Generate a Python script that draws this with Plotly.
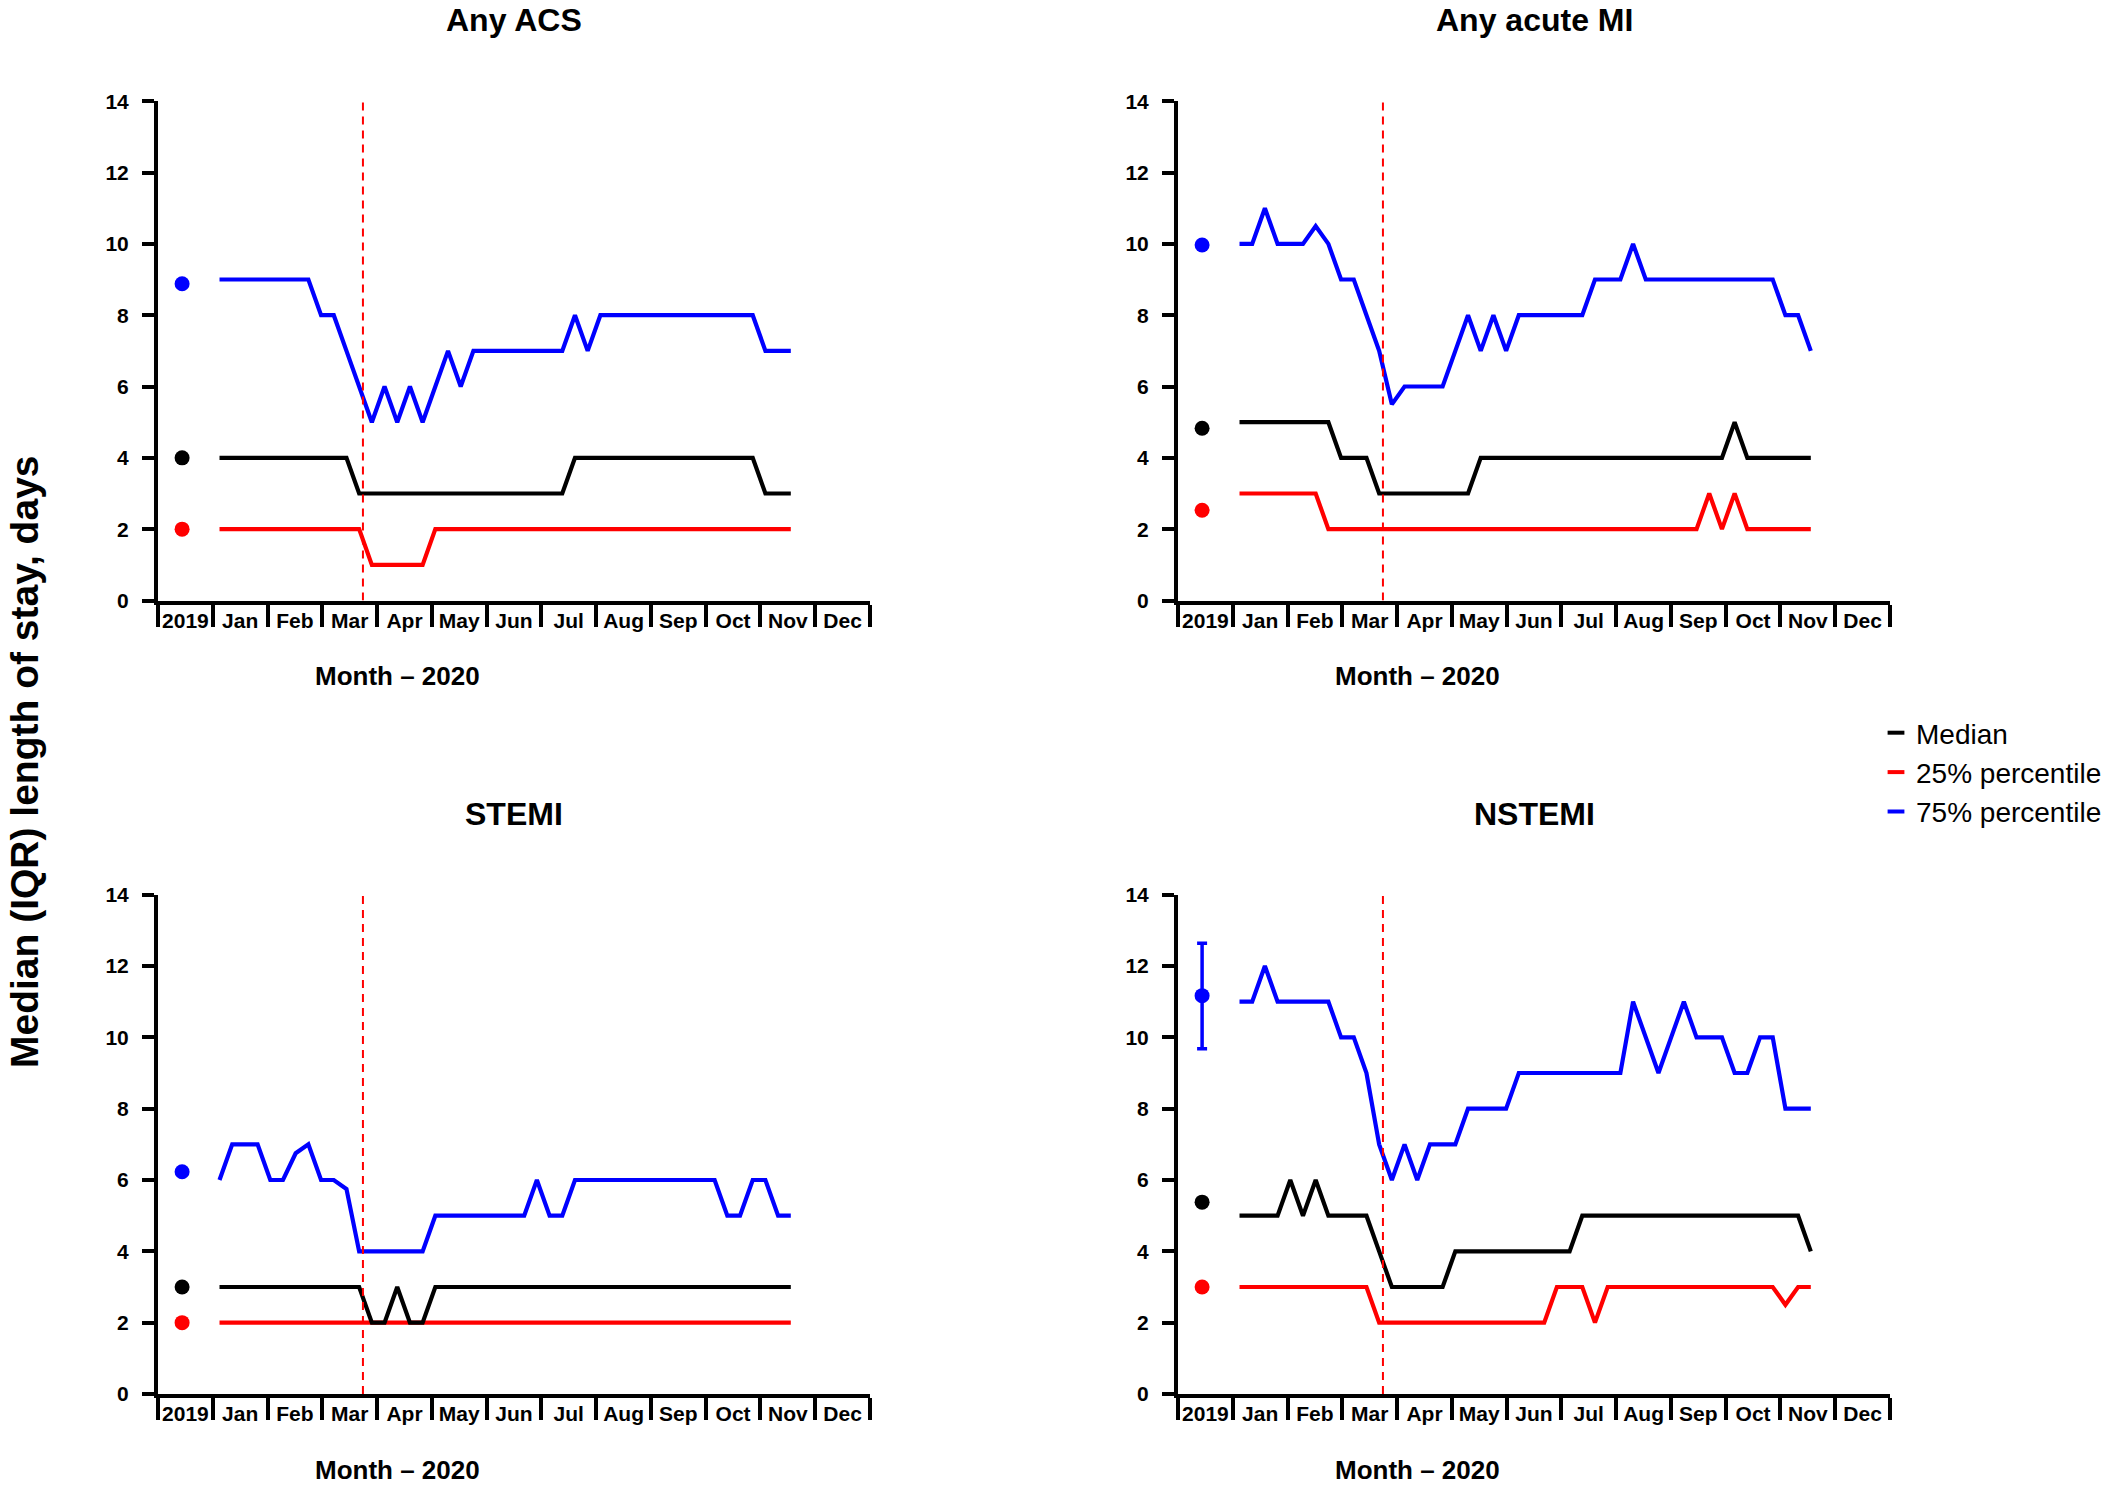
import plotly.graph_objects as go

# Canvas
W, H = 2116, 1485
FONT = "Liberation Sans, Arial, Helvetica, sans-serif"

# Category axis: 2019 reference slot followed by the months of 2020
MONTH_LABELS = ["2019", "Jan", "Feb", "Mar", "Apr", "May", "Jun",
                "Jul", "Aug", "Sep", "Oct", "Nov", "Dec"]
Y_TICKS = [0, 2, 4, 6, 8, 10, 12, 14]

# Weekly observations of 2020 (week 1 .. week 46)
WEEKS = list(range(1, 47))
FIRST_WEEK_POS = 1.123      # position of week 1 on the month axis
WEEK_STEP = 0.2318          # one week expressed in month units
BASELINE_POS = 0.44         # 2019 reference point
LOCKDOWN_POS = 3 + 23 / 31  # 23 March 2020

# ---- Any ACS ----
ACS_MEDIAN = [4] * 11 + [3] * 17 + [4] * 15 + [3] * 3
ACS_P25 = [2] * 12 + [1] * 5 + [2] * 29
ACS_P75 = [9, 9, 9, 9, 9, 9, 9, 9, 8, 8, 7, 6, 5, 6, 5, 6, 5, 6, 7, 6,
           7, 7, 7, 7, 7, 7, 7, 7, 8, 7] + [8] * 13 + [7, 7, 7]
ACS_BASE = {"median": 4.0, "p25": 2.0, "p75": 8.88}

# ---- Any acute MI ----
AMI_MEDIAN = [5] * 8 + [4] * 3 + [3] * 8 + [4] * 20 + [5] + [4] * 6
AMI_P25 = [3] * 7 + [2] * 30 + [3, 2, 3] + [2] * 6
AMI_P75 = [10, 10, 11, 10, 10, 10, 10.5, 10, 9, 9, 8, 7, 5.5,
           6, 6, 6, 6, 7, 8, 7, 8, 7] + [8] * 6 + [9] * 3 + [10] + [9] * 11 + [8, 8, 7]
AMI_BASE = {"median": 4.83, "p25": 2.53, "p75": 9.97}

# ---- STEMI ----
STEMI_MEDIAN = [3] * 12 + [2, 2, 3, 2, 2] + [3] * 29
STEMI_P25 = [2] * 46
STEMI_P75 = [6, 7, 7, 7, 6, 6, 6.75, 7, 6, 6, 5.75] + [4] * 6 + [5] * 8 + \
            [6, 5, 5] + [6] * 12 + [5, 5, 6, 6, 5, 5]
STEMI_BASE = {"median": 3.0, "p25": 2.0, "p75": 6.23}

# ---- NSTEMI ----
NSTEMI_MEDIAN = [5] * 4 + [6, 5, 6] + [5] * 4 + [4] + [3] * 5 + [4] * 10 + [5] * 18 + [4]
NSTEMI_P25 = [3] * 11 + [2] * 14 + [3] * 3 + [2] + [3] * 14 + [2.5, 3, 3]
NSTEMI_P75 = [11, 11, 12, 11, 11, 11, 11, 11, 10, 10, 9, 7, 6, 7, 6, 7, 7, 7,
              8, 8, 8, 8] + [9] * 9 + [11, 10, 9, 10, 11, 10, 10, 10, 9, 9, 10, 10, 8, 8, 8]
NSTEMI_BASE = {"median": 5.38, "p25": 3.0, "p75": 11.17}
NSTEMI_P75_CI = (9.68, 12.64)

COLORS = {"median": "#000000", "p25": "#ff0000", "p75": "#0000ff"}
LEGEND_NAMES = {"median": "Median", "p25": "25% percentile", "p75": "75% percentile"}

PANELS = [
    dict(title="Any ACS", median=ACS_MEDIAN, p25=ACS_P25, p75=ACS_P75, base=ACS_BASE, ci=None),
    dict(title="Any acute MI", median=AMI_MEDIAN, p25=AMI_P25, p75=AMI_P75, base=AMI_BASE, ci=None),
    dict(title="STEMI", median=STEMI_MEDIAN, p25=STEMI_P25, p75=STEMI_P75, base=STEMI_BASE, ci=None),
    dict(title="NSTEMI", median=NSTEMI_MEDIAN, p25=NSTEMI_P25, p75=NSTEMI_P75, base=NSTEMI_BASE,
         ci=NSTEMI_P75_CI),
]

# Plot-area placement in pixels: (left, right) columns, (y=14, y=0) rows
COLS_PX = [(158, 870), (1178, 1890)]
ROWS_PX = [(101.2, 600.5), (894.7, 1394.0)]

week_pos = [FIRST_WEEK_POS + (w - 1) * WEEK_STEP for w in WEEKS]

fig = go.Figure()
layout_axes = {}
annotations = []
shapes = []

for k, p in enumerate(PANELS):
    r, c = divmod(k, 2)
    n = "" if k == 0 else str(k + 1)
    xa, ya = "x" + n, "y" + n
    (x0, x1), (ytop, ybot) = COLS_PX[c], ROWS_PX[r]

    layout_axes["xaxis" + n] = dict(
        domain=[x0 / W, x1 / W], anchor=ya, range=[0, 13], automargin=False,
        showline=True, linewidth=4, linecolor="black",
        showgrid=False, zeroline=False,
        tickmode="array", tickvals=[i + 0.5 for i in range(13)], ticktext=MONTH_LABELS,
        ticks="", ticklabelstandoff=-2,
        tickfont=dict(family=FONT, size=21, color="black", weight="bold"),
        minor=dict(tickmode="array", tickvals=list(range(14)), ticks="outside",
                   ticklen=22, tickwidth=4, tickcolor="black", showgrid=False),
        fixedrange=True,
    )
    layout_axes["yaxis" + n] = dict(
        domain=[1 - ybot / H, 1 - ytop / H], anchor=xa, range=[0, 14], automargin=False,
        showline=True, linewidth=4, linecolor="black",
        showgrid=False, zeroline=False,
        tickmode="array", tickvals=Y_TICKS,
        ticks="outside", ticklen=12, tickwidth=4, tickcolor="black",
        ticklabelstandoff=9,
        tickfont=dict(family=FONT, size=21, color="black", weight="bold"),
        fixedrange=True,
    )

    # weekly lines
    for key in ["p25", "p75", "median"]:
        fig.add_trace(go.Scatter(
            x=week_pos, y=p[key], mode="lines", xaxis=xa, yaxis=ya,
            line=dict(color=COLORS[key], width=4.2), showlegend=False,
            hoverinfo="skip",
        ))
    # 2019 reference points
    for key in ["p25", "p75", "median"]:
        err = None
        if key == "p75" and p["ci"] is not None:
            lo, hi = p["ci"]
            err = dict(type="data", symmetric=False,
                       array=[hi - p["base"][key]], arrayminus=[p["base"][key] - lo],
                       color=COLORS[key], thickness=3.5, width=5)
        fig.add_trace(go.Scatter(
            x=[BASELINE_POS], y=[p["base"][key]], mode="markers", xaxis=xa, yaxis=ya,
            marker=dict(color=COLORS[key], size=15), error_y=err,
            showlegend=False, hoverinfo="skip",
        ))

    # lockdown marker
    shapes.append(dict(type="line", xref=xa, yref=ya, x0=LOCKDOWN_POS, x1=LOCKDOWN_POS,
                       y0=0, y1=14, line=dict(color="#ff0000", width=2, dash="8px,6px"),
                       layer="above"))
    annotations.append(dict(xref=xa, yref=ya, x=4.2, y=14.1, xanchor="left", yanchor="top",
                            text="COVID\u201319<br>lockdown", showarrow=False, align="left",
                            font=dict(family=FONT, size=17, color="black", weight="bold")))
    # panel title
    annotations.append(dict(xref=xa + " domain", yref="paper", x=0.5,
                            y=1 - (ytop - 81) / H, xanchor="center", yanchor="middle",
                            text=p["title"], showarrow=False,
                            font=dict(family=FONT, size=32, color="black", weight="bold")))
    # x axis caption
    annotations.append(dict(xref=xa, yref="paper", x=4.38, y=1 - (ybot + 75.5) / H,
                            xanchor="center", yanchor="middle", text="Month \u2013 2020",
                            showarrow=False,
                            font=dict(family=FONT, size=26, color="black", weight="bold")))

# shared y caption
annotations.append(dict(xref="paper", yref="paper", x=24 / W, y=1 - 762 / H,
                        xanchor="center", yanchor="middle", textangle=-90,
                        text="Median (IQR) length of stay, days", showarrow=False,
                        font=dict(family=FONT, size=39, color="black", weight="bold")))

# legend entries with short line keys
for key in ["median", "p25", "p75"]:
    fig.add_trace(go.Scatter(
        x=[None], y=[None], mode="markers", name=LEGEND_NAMES[key],
        marker=dict(symbol="line-ew", size=12, line=dict(width=4, color=COLORS[key])),
        showlegend=True,
    ))

fig.update_layout(
    width=W, height=H, margin=dict(l=0, r=0, t=0, b=0, autoexpand=False),
    paper_bgcolor="white", plot_bgcolor="white",
    showlegend=True,
    legend=dict(x=1876 / W, y=1 - 708 / H, xanchor="left", yanchor="top",
                font=dict(family=FONT, size=28, color="black"),
                bgcolor="rgba(0,0,0,0)", itemwidth=30, tracegroupgap=0),
    annotations=annotations, shapes=shapes,
    **layout_axes,
)

fig.write_html("out.html")
